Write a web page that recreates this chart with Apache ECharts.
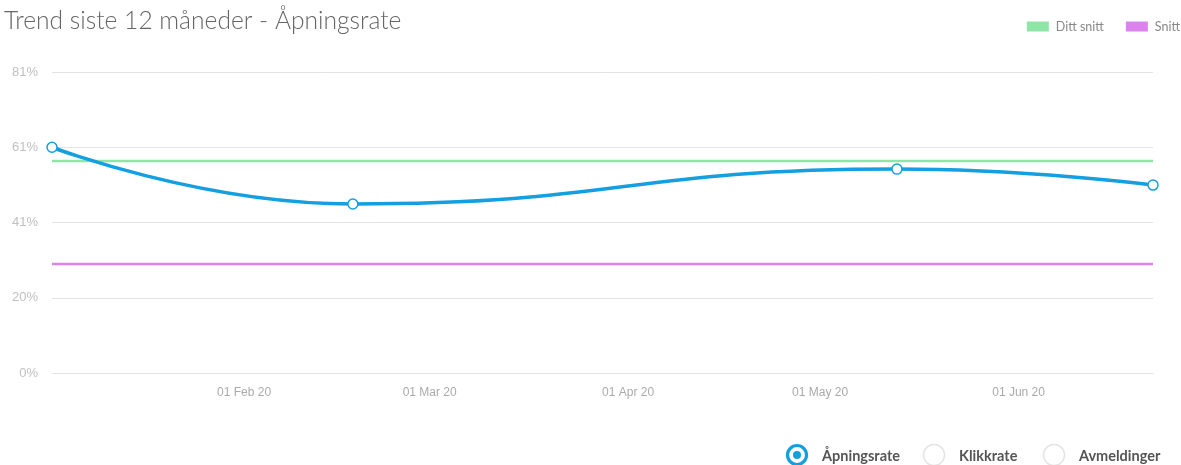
<!DOCTYPE html>
<html><head><meta charset="utf-8">
<script src="https://cdn.jsdelivr.net/npm/echarts@6/dist/echarts.min.js"></script>
<style>html,body{margin:0;padding:0;background:#fff}#c{width:1181px;height:465px}</style>
</head><body><div id="c"></div>
<script>
const dates = ['2020-01-02', '2020-02-18', '2020-05-13', '2020-06-22'];
const apningsrate = [60.9, 45.6, 55.0, 50.7];
const dittSnitt = 57.2;
const snitt = 29.4;
const yTicks = [0, 20.3, 40.6, 60.9, 81.2];
const radioLabels = ['Åpningsrate', 'Klikkrate', 'Avmeldinger'];
const monthNames = ['Jan','Feb','Mar','Apr','May','Jun','Jul','Aug','Sep','Oct','Nov','Dec'];

const chart = echarts.init(document.getElementById('c'));
const t = d => new Date(d + 'T00:00:00').getTime();
const first = t(dates[0]), last = t(dates[dates.length - 1]);

const radioX = [797, 934, 1054];
const graphics = [];
radioLabels.forEach((lab, i) => {
  const sel = i === 0;
  graphics.push({type:'circle', shape:{cx:radioX[i], cy:455, r: sel ? 9.5 : 10.5}, style:{fill:'#fff', stroke: sel ? '#149fe0' : '#e4e4e4', lineWidth: sel ? 3.2 : 1.5}});
  if (sel) graphics.push({type:'circle', shape:{cx:radioX[i], cy:455, r:4}, style:{fill:'#149fe0'}});
  graphics.push({type:'text', x: radioX[i] + 25, y: 456, style:{text: lab, fill:'#555', font:'bold 14.5px Lato', verticalAlign:'middle'}});
});

chart.setOption({
  animation: false,
  title: {text: 'Trend siste 12 måneder - Åpningsrate', left: -1, top: 4,
    textStyle: {fontFamily: 'Lato', fontWeight: 300, fontSize: 24.6, color: '#666'}},
  legend: {data: ['Ditt snitt', 'Snitt'], right: -4, top: 15, icon: 'rect', itemWidth: 22, itemHeight: 10, itemGap: 22,
    textStyle: {fontFamily: 'Lato', fontSize: 12.5, color: '#888', padding: [0, 0, 0, 2]}},
  grid: {left: 52, right: 28, top: 72, bottom: 92},
  xAxis: {type: 'time', min: first, max: last,
    axisLine: {show: true, lineStyle: {color: '#e3e3e3'}}, axisTick: {show: false}, splitLine: {show: false},
    axisLabel: {color: '#aaa', fontFamily: 'Liberation Sans', fontSize: 12, margin: 14, showMinLabel: false, showMaxLabel: false,
      formatter: v => { const d = new Date(v); return String(d.getDate()).padStart(2,'0') + ' ' + monthNames[d.getMonth()] + ' ' + String(d.getFullYear()).slice(2); }}},
  yAxis: {type: 'value', min: yTicks[0], max: yTicks[yTicks.length-1], interval: yTicks[1] - yTicks[0],
    axisLine: {show: false}, axisTick: {show: false},
    splitLine: {lineStyle: {color: '#e3e3e3'}},
    axisLabel: {color: '#c0c0c0', fontFamily: 'Liberation Sans', fontSize: 13, margin: 14, formatter: v => Math.round(v) + '%'}},
  graphic: graphics,
  series: [
    {name: 'Ditt snitt', type: 'line', data: [[first, dittSnitt], [last, dittSnitt]], symbol: 'none', color: '#8ee6a6', lineStyle: {width: 2.5, color: '#8ee6a6'}},
    {name: 'Snitt', type: 'line', data: [[first, snitt], [last, snitt]], symbol: 'none', color: '#dc82ec', lineStyle: {width: 2.5, color: '#dc82ec'}},
    {name: 'Åpningsrate', type: 'line', smooth: 0.5, data: dates.map((d, i) => [t(d), apningsrate[i]]),
      symbol: 'circle', symbolSize: 10, color: '#149fe0',
      itemStyle: {color: '#fff', borderColor: '#149fe0', borderWidth: 1.5},
      lineStyle: {width: 3.5, color: '#149fe0'}, z: 5}
  ]
});
</script></body></html>
